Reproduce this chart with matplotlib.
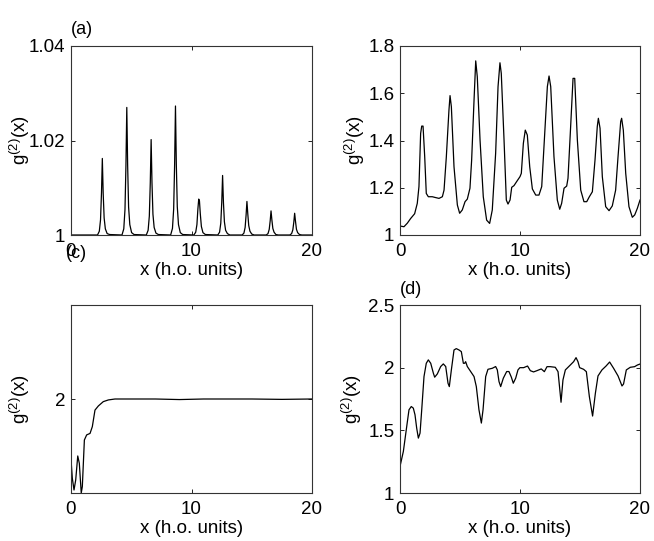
import numpy as np
from matplotlib import pyplot as plt

plt.rcParams['font.family'] = ['Liberation Sans', 'DejaVu Sans']
plt.rcParams['mathtext.fontset'] = 'custom'
plt.rcParams['mathtext.rm'] = 'Liberation Sans'
plt.rcParams['mathtext.default'] = 'regular'

# panel (a): narrow peaks above 1
xa = [0.0, 2.2, 2.35, 2.45, 2.53, 2.6, 2.67, 2.75, 2.85, 3.0, 3.2,
      4.23, 4.38, 4.48, 4.56, 4.63, 4.70, 4.78, 4.88, 5.03, 5.23,
      6.25, 6.40, 6.50, 6.58, 6.65, 6.72, 6.80, 6.90, 7.05, 7.25,
      8.27, 8.42, 8.52, 8.60, 8.67, 8.74, 8.82, 8.92, 9.07, 9.27,
      10.2, 10.35, 10.45, 10.53, 10.6, 10.66, 10.73, 10.82, 10.95, 11.15,
      12.18, 12.33, 12.43, 12.51, 12.58, 12.65, 12.73, 12.83, 12.98, 13.18,
      14.2, 14.35, 14.45, 14.53, 14.6, 14.67, 14.75, 14.85, 15.0, 15.2,
      16.2, 16.35, 16.45, 16.53, 16.6, 16.67, 16.75, 16.85, 17.0, 17.2,
      18.16, 18.31, 18.41, 18.49, 18.56, 18.63, 18.71, 18.81, 18.96, 19.16, 20.0]
ya = [1.0, 1.0, 1.0008, 1.0032, 1.0089, 1.0162, 1.0089, 1.0036, 1.0013, 1.0003, 1.0001,
      1.0, 1.0013, 1.0054, 1.0148, 1.0270, 1.0148, 1.0059, 1.0022, 1.0005, 1.0001,
      1.0, 1.0010, 1.0040, 1.0111, 1.0202, 1.0111, 1.0044, 1.0016, 1.0004, 1.0001,
      1.0, 1.0014, 1.0055, 1.0150, 1.0273, 1.0150, 1.0060, 1.0022, 1.0005, 1.0001,
      1.0, 1.0006, 1.0022, 1.0055, 1.0076, 1.0072, 1.0045, 1.0018, 1.0005, 1.0001,
      1.0, 1.0006, 1.0025, 1.0069, 1.0126, 1.0069, 1.0028, 1.0010, 1.0003, 1.0,
      1.0, 1.0004, 1.0016, 1.0042, 1.0071, 1.0045, 1.0020, 1.0008, 1.0002, 1.0,
      1.0, 1.0003, 1.0012, 1.0030, 1.0051, 1.0032, 1.0014, 1.0006, 1.0001, 1.0,
      1.0, 1.0003, 1.0011, 1.0027, 1.0046, 1.0029, 1.0012, 1.0005, 1.0001, 1.0, 1.0]

# panel (b)
xb = [0, 0.33, 0.61, 0.89, 1.22, 1.44, 1.58, 1.72, 1.81, 1.92, 2.06, 2.19, 2.36, 2.69,
      2.92, 3.25, 3.53, 3.67, 3.86, 4.08, 4.17, 4.28, 4.5, 4.78, 4.97, 5.19, 5.42, 5.61,
      5.83, 5.97, 6.17, 6.31, 6.44, 6.67, 6.94, 7.22, 7.47, 7.69, 7.97, 8.17, 8.33, 8.44,
      8.67, 8.86, 9.0, 9.17, 9.31, 9.5, 9.72, 10.0, 10.11, 10.28, 10.44, 10.61, 10.81,
      11.03, 11.31, 11.58, 11.81, 12.06, 12.28, 12.42, 12.56, 12.83, 13.11, 13.31, 13.47,
      13.67, 13.89, 14.0, 14.22, 14.42, 14.56, 14.78, 15.06, 15.33, 15.56, 15.78, 16.03,
      16.25, 16.44, 16.53, 16.67, 16.86, 17.14, 17.42, 17.69, 17.97, 18.17, 18.39, 18.47,
      18.61, 18.81, 19.08, 19.36, 19.56, 19.78, 20.0]
yb = [1.038, 1.035, 1.05, 1.07, 1.09, 1.134, 1.205, 1.43, 1.461, 1.461, 1.33, 1.176, 1.162,
      1.162, 1.159, 1.155, 1.162, 1.19, 1.33, 1.529, 1.59, 1.543, 1.289, 1.127, 1.092,
      1.106, 1.141, 1.152, 1.198, 1.317, 1.571, 1.737, 1.670, 1.402, 1.162, 1.063, 1.049,
      1.106, 1.346, 1.628, 1.729, 1.684, 1.402, 1.148, 1.131, 1.148, 1.202, 1.209, 1.226,
      1.247, 1.261, 1.388, 1.444, 1.423, 1.289, 1.195, 1.169, 1.169, 1.205, 1.43, 1.628,
      1.673, 1.628, 1.332, 1.148, 1.109, 1.134, 1.198, 1.207, 1.24, 1.459, 1.663, 1.663,
      1.402, 1.19, 1.141, 1.141, 1.162, 1.183, 1.317, 1.459, 1.494, 1.452, 1.247, 1.12,
      1.103, 1.123, 1.19, 1.332, 1.48, 1.494, 1.444, 1.261, 1.12, 1.075, 1.085, 1.113, 1.148]

# panel (c)
xc = [0, 0.11, 0.25, 0.39, 0.56, 0.69, 0.85, 0.94, 1.11, 1.30, 1.58, 1.77, 1.99, 2.27,
      2.68, 3.1, 3.65, 5.0, 7.0, 9.0, 11.0, 13.0, 15.0, 17.5, 20.0]
yc = [1.679, 1.578, 1.516, 1.569, 1.697, 1.658, 1.5, 1.534, 1.782, 1.809, 1.817, 1.853,
      1.941, 1.963, 1.986, 1.995, 2.0, 2.0, 2.0, 1.997, 2.0, 2.0, 2.0, 1.998, 2.0]

# panel (d)
xd = [0, 0.28, 0.56, 0.75, 0.94, 1.11, 1.25, 1.39, 1.53, 1.67, 1.81, 2.0, 2.19, 2.36,
      2.56, 2.78, 2.89, 3.11, 3.39, 3.61, 3.81, 4.0, 4.11, 4.28, 4.5, 4.69, 4.92, 5.11,
      5.28, 5.39, 5.47, 5.61, 5.89, 6.17, 6.36, 6.58, 6.78, 6.92, 7.14, 7.33, 7.69, 7.97,
      8.11, 8.25, 8.39, 8.61, 8.89, 9.08, 9.28, 9.44, 9.64, 9.83, 9.99, 10.3, 10.63,
      10.86, 11.13, 11.41, 11.77, 12.03, 12.25, 12.52, 12.94, 13.17, 13.42, 13.58, 13.78,
      14.19, 14.47, 14.67, 14.83, 14.97, 15.3, 15.53, 15.78, 16.05, 16.28, 16.5, 16.83,
      17.17, 17.47, 17.8, 18.17, 18.5, 18.63, 18.86, 19.19, 19.55, 19.78, 20.0]
yd = [1.212, 1.332, 1.531, 1.664, 1.69, 1.677, 1.624, 1.518, 1.438, 1.478, 1.664, 1.929,
      2.035, 2.062, 2.035, 1.956, 1.924, 1.95, 2.009, 2.030, 2.009, 1.876, 1.849, 1.982,
      2.141, 2.152, 2.141, 2.128, 2.035, 2.035, 2.048, 2.009, 1.969, 1.929, 1.849, 1.664,
      1.558, 1.664, 1.929, 1.987, 1.995, 2.009, 1.982, 1.889, 1.849, 1.916, 1.969, 1.969,
      1.924, 1.876, 1.916, 1.982, 2.0, 2.0, 2.013, 1.976, 1.966, 1.976, 1.990, 1.968,
      2.008, 2.008, 2.003, 1.968, 1.724, 1.902, 1.982, 2.021, 2.048, 2.08, 2.048, 2.0,
      1.987, 1.968, 1.769, 1.614, 1.795, 1.934, 1.982, 2.013, 2.045, 1.995, 1.934, 1.854,
      1.87, 1.982, 2.003, 2.008, 2.021, 2.029]

W, H = 654, 541
fig = plt.figure(figsize=(W / 100, H / 100), dpi=100)

def box(l, t, r, b):
    return [l / W, 1 - b / H, (r - l) / W, (b - t) / H]

ax_a = fig.add_axes(box(71, 46, 312, 235))
ax_b = fig.add_axes(box(400, 46, 640, 235))
ax_c = fig.add_axes(box(71, 305, 312, 493))
ax_d = fig.add_axes(box(400, 305, 640, 493))

#            axes, x, y, ylim, yticks, yticklabels, ylabel x (axes coords)
panels = [(ax_a, xa, ya, (1, 1.04), [1, 1.02, 1.04], ['1', '1.02', '1.04'], -0.162),
          (ax_b, xb, yb, (1, 1.8), [1, 1.2, 1.4, 1.6, 1.8], ['1', '1.2', '1.4', '1.6', '1.8'], -0.138),
          (ax_c, xc, yc, (1.5, 2.5), [2], ['2'], -0.162),
          (ax_d, xd, yd, (1, 2.5), [1, 1.5, 2, 2.5], ['1', '1.5', '2', '2.5'], -0.15)]

for ax, x, y, ylim, yt, ytl, ylx in panels:
    ax.plot(x, y, color='k', lw=0.9)
    ax.set_xlim(0, 20)
    ax.set_ylim(*ylim)
    ax.set_xticks([0, 10, 20])
    ax.set_yticks(yt)
    ax.set_yticklabels(ytl)
    ax.tick_params(direction='in', length=3, width=0.6, top=True, right=True,
                   labelsize=13.5, pad=4, colors='k')
    ax.tick_params(axis='x', pad=6)
    for s in ax.spines.values():
        s.set_linewidth(0.8)
        s.set_color('#333333')
    ax.set_xlabel('x (h.o. units)', fontsize=13.5, labelpad=1)
    ax.set_ylabel(r'g$^{(2)}$(x)', fontsize=13.5)
    ax.yaxis.set_label_coords(ylx, 0.5)

fig.text(82 / W, 1 - 30 / H, '(a)', fontsize=13, ha='center', va='center')
fig.text(76 / W, 1 - 254 / H, '(c)', fontsize=13, ha='center', va='center')
fig.text(411 / W, 1 - 290 / H, '(d)', fontsize=13, ha='center', va='center')

fig.savefig('out.png', dpi=100)
